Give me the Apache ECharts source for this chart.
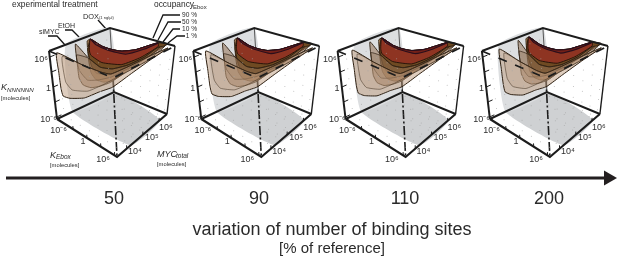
<!DOCTYPE html>
<html><head><meta charset="utf-8">
<style>html,body{margin:0;padding:0;background:#fff}#c{width:617px;height:259px}</style>
<script src="https://cdn.jsdelivr.net/npm/echarts@6/dist/echarts.min.js"></script>
</head><body><div id="c"></div>
<script>
// ---------- data: every point is [log10 KEbox, log10 MYCtotal, log10 KNNNNNN] ----------
const panelLabels = ['50','90','110','200'];
const kEboxTicks = [-6,-3,0,3,6];
const mycTicks = [4,5,6];
const kNTicks = [-6,-3,0,3,6];
const dotK = [-5,-3,-1,1,3,5];
const dotM = [3.8,4.3,4.8,5.3,5.8,6.3];
const dotN = [-5,-3,-1,1,3,5];

const siMYC_1 = [[-6.5,3.76,6.3],[-6.5,3.76,2.4],[-6.4,3.76,-.8],[-6.1,3.76,-2.2],[-4.6,3.76,-1.9],[-1.4,3.76,-.3],[1.95,3.76,2.3],[4.8,3.76,4.3],[6.5,4.24,6.25],[6.5,5.26,6.97],[6.1,6.25,7.2],[5.79,5.43,7.2],[5.72,4.42,7.2],[4.55,3.76,6.55],[2.5,3.76,6.15],[-1.6,3.76,6.05]];
const siMYC_10 = [[-5.4,3.76,6],[-5.2,3.76,1.05],[-3.9,3.76,.07],[-.5,3.76,1.4],[3.1,3.76,4.2],[6.5,4,7],[6.5,5.26,7.1],[6.1,6.25,7.2],[5.79,5.43,7.2],[5.72,4.42,7.2],[4.55,3.76,6.55],[2.5,3.76,6.15],[-1.6,3.76,6.05]];
const etoh_1 = [[-6.5,4.73,6.6],[-6.5,4.73,2.3],[-6.4,4.73,-.3],[-5.6,4.73,-1.4],[-3.9,4.73,-1.2],[-1.8,4.73,0],[.4,4.73,1.6],[6.5,3.99,7],[6.5,5.26,7.2],[5.2,6.32,7.2],[4.7,6.05,7.2],[5.4,5.26,7.2],[5.3,4.45,7.2],[.9,4.73,4.4],[-1.6,4.73,3.8],[-4,4.73,4.7]];
const etoh_10 = [[-6.5,4.73,4.35],[-6.2,4.73,1.35],[-4.55,4.73,.05],[-2.1,4.73,1.1],[.65,4.73,2.75],[4.3,4.73,5.75],[5.8,5.42,7.2],[4.8,6.18,7.2],[4.7,6.05,7.2],[5.4,5.26,7.2],[5.3,4.45,7.2],[.9,4.73,4.4],[-1.6,4.73,3.8],[-4,4.73,4.7]];
const dox_1 = [[-6.5,5.32,6.3],[-6.5,5.32,2],[-6.2,5.32,-.2],[-5.2,5.32,-1.2],[-3.5,5.32,-1],[-1.6,5.32,0],[1.04,5.32,2.6],[4.3,5.32,6],[4.94,5.88,7.2],[5,6.5,7.2],[3.5,6.4,7.2],[2.9,5.9,7.2],[2.46,5.5,7.2],[.5,5.32,6.65],[-1.5,5.32,6.3],[-3.5,5.32,6.3],[-5.8,5.32,6.95]];
const dox_10 = [[-6.5,5.32,4.4],[-6,5.32,1.3],[-5,5.32,.2],[-1.7,5.32,1.2],[2.6,5.32,4.2],[5.46,5.76,7.2],[5,6.5,7.2],[3.5,6.4,7.2],[2.9,5.9,7.2],[2.46,5.5,7.2],[.5,5.32,6.65],[-1.5,5.32,6.3],[-3.5,5.32,6.3],[-5.8,5.32,6.95]];
const dox_50 = [[-6.2,5.32,4.6],[-6,5.32,3.6],[-3.7,5.32,2.9],[.5,5.32,4],[4.4,5.32,6.7],[4.5,6.16,7.2],[3.5,6.4,7.2],[2.9,5.9,7.2],[2.46,5.5,7.2],[.5,5.32,6.65],[-1.5,5.32,6.3],[-3.5,5.32,6.3],[-5.8,5.32,6.95]];
const dox_90 = [[-5.6,5.32,6.8],[-4.8,5.32,6.2],[-2.3,5.32,5.9],[1.3,5.32,6.3],[3.4,5.71,7.2],[3.6,6.38,7.2],[3.5,6.4,7.2],[2.9,5.9,7.2],[2.46,5.5,7.2],[.5,5.32,6.65],[-1.5,5.32,6.3],[-3.5,5.32,6.3],[-5.8,5.32,6.95]];
// how far each treatment's slice sits up the MYC axis in each panel (log10 units)
const siMYC_shift = [0,.25,.36,.5];
const etoh_shift = [0,.15,.3,.5];
const dox_shift = [0,.15,.15,.3];

// ---------- view of the 3D box ----------
const R = {k:[-6.5,6.5], m:[3.4,6.5], n:[-6.4,7.2]};
const C = { // projected corners in panel-local units, [k side][myc side]
  top:{ll:[49,51],lh:[110,28],hl:[113,78],hh:[175,46]},
  bot:{ll:[57,119],lh:[114,92],hl:[117,157],hh:[167,114]}
};
function project(p){
  const s=(p[0]-R.k[0])/(R.k[1]-R.k[0]), t=(p[1]-R.m[0])/(R.m[1]-R.m[0]), h=(p[2]-R.n[0])/(R.n[1]-R.n[0]);
  const bl=(f)=>(o)=>(1-s)*(1-t)*f.ll[o]+(1-s)*t*f.lh[o]+s*(1-t)*f.hl[o]+s*t*f.hh[o];
  const T=bl(C.top),B=bl(C.bot);
  return [h*T(0)+(1-h)*B(0), h*T(1)+(1-h)*B(1)];
}
const shifted=(pts,d)=>pts.map(p=>[p[0],p[1]+d*(1-(p[0]-R.k[0])/(R.k[1]-R.k[0])),p[2]]);

const K=R.k,M=R.m,N=R.n;
const FONT='"Liberation Sans",Arial,sans-serif';
const EDGE='#1c1c1c';
function layersFor(panel){
  const L=[];
  const poly=(pts,fill,stroke,lw)=>L.push({t:'poly',pts,fill,stroke,lw});
  const line=(pts,w,c,dash)=>L.push({t:'line',pts,w,c,dash});
  // grey planes
  poly([[K[0],4.25,N[0]],[K[0],M[1],N[0]],[K[1],6.05,N[0]],[K[1],4.25,N[0]]],'#cfd1d3');
  poly([[K[0],4.25,N[1]],[K[0],M[1],N[1]],[K[0],M[1],N[0]],[K[0],4.25,N[0]]],'#dcdee0');
  // far edges
  line([[K[0],M[1],N[1]],[K[0],M[1],N[0]]],1,'#555');
  line([[K[0],M[0],N[0]],[K[0],M[1],N[0]],[K[1],M[1],N[0]]],2,EDGE);
  // near vertical dashed
  line([[K[1],M[0],N[1]],[K[1],M[0],N[0]]],1.6,EDGE,[9,2.5,2,2.5]);
  // sheets, back to front
  const dd=dox_shift[panel], ed=etoh_shift[panel], sd=siMYC_shift[panel];
  poly(shifted(dox_1,dd),'#a8825a','#2e2012',.9);
  poly(shifted(dox_10,dd),'#6f4a22','#2a1a0c',.9);
  poly(shifted(dox_50,dd),'#8e3422','#2a140a',1);
  poly(shifted(dox_90,dd),'#742018','#2a0f1c',1.1);
  poly(shifted(etoh_1,ed),'rgba(150,115,85,0.55)','#2e2012',.9);
  poly(shifted(etoh_10,ed),'rgba(120,85,55,0.22)','#2e2012',.7);
  poly(shifted(siMYC_1,sd),'rgba(190,155,125,0.5)','#2e2012',1);
  poly(shifted(siMYC_10,sd),'rgba(170,130,100,0.16)','#3a2a1a',.5);
  // box top edges, dashed near ones
  line([[K[0],M[0],N[1]],[K[1],M[0],N[1]],[K[1],M[1],N[1]]],1.8,EDGE,[9,9]);
  line([[K[0],M[0],N[1]],[K[0],M[1],N[1]],[K[1],M[1],N[1]]],2,EDGE);
  line([[K[0],M[0],N[1]],[K[0],M[0],N[0]]],2,EDGE);
  line([[K[1],M[1],N[1]],[K[1],M[1],N[0]]],1.4,EDGE);
  line([[K[0],M[0],N[0]],[K[1],M[0],N[0]],[K[1],M[1],N[0]]],2.2,EDGE);
  // ticks
  kNTicks.forEach(v=>line([[K[0],M[0],v],[K[0],3.65,v]],1,EDGE));
  kEboxTicks.forEach(v=>line([[v,M[0],N[0]],[v,M[0],-5.8]],1,EDGE));
  mycTicks.forEach(v=>line([[K[1],v,N[0]],[K[1],v,-5.8]],1,EDGE));
  // tick labels (panel-local placement)
  const txt=(s,x,y,align)=>L.push({t:'text',s,x,y,align});
  txt('10\u2076',48,60,'right'); txt('1',51,89,'right'); txt('10\u207B\u2076',57,120,'right');
  txt('10\u207B\u2076',67,131,'right'); txt('1',83,142,'center'); txt('10\u2076',110,160,'right');
  txt('10\u2074',128,152,'left'); txt('10\u2075',145,138,'left'); txt('10\u2076',159,128,'left');
  return L;
}
function wallDots(){
  const d=[];
  dotM.forEach(m=>dotN.forEach(n=>d.push(project([K[1],m,n]))));
  dotK.forEach(k=>dotM.forEach(m=>d.push(project([k,m,N[0]]))));
  dotM.forEach(m=>dotN.forEach(n=>d.push(project([K[0],m,n]))));
  return d;
}
function renderLayer(layers){
  return function(params,api){
    const l=layers[api.value(0)];
    const xy=p=>api.coord(project(p));
    if(l.t==='poly') return {type:'polygon',shape:{points:l.pts.map(xy),smooth:.15},
      style:{fill:l.fill,stroke:l.stroke||null,lineWidth:l.lw||0}};
    if(l.t==='line') return {type:'polyline',shape:{points:l.pts.map(xy)},
      style:{fill:null,stroke:l.c,lineWidth:l.w,lineDash:l.dash||null}};
    const c=api.coord([l.x,l.y]);
    return {type:'text',style:{text:l.s,x:c[0],y:c[1],fill:'#2e2e2e',font:'9px '+FONT,align:l.align,verticalAlign:'middle'}};
  };
}
const PANEL_W=180,PANEL_H=175;
const grids=[],xAxes=[],yAxes=[],series=[];
panelLabels.forEach((_,i)=>{
  grids.push({left:144.3*i,top:0,width:PANEL_W,height:PANEL_H});
  xAxes.push({type:'value',gridIndex:i,min:0,max:PANEL_W,show:false});
  yAxes.push({type:'value',gridIndex:i,min:0,max:PANEL_H,inverse:true,show:false});
  const layers=layersFor(i);
  series.push({type:'scatter',xAxisIndex:i,yAxisIndex:i,data:wallDots(),symbolSize:1,silent:true,z:3,
    itemStyle:{color:'#a5a5a5'}});
  series.push({type:'custom',xAxisIndex:i,yAxisIndex:i,silent:true,clip:false,z:2,
    data:layers.map((_,j)=>[j,0]),renderItem:renderLayer(layers),animation:false});
});
const T=(text,x,y,size,extra)=>Object.assign({type:'text',silent:true,style:{text,x,y,fill:'#2a2a2a',font:(extra&&extra.italic?'italic ':'')+size+'px '+FONT,align:(extra&&extra.align)||'left',verticalAlign:'middle'}});
const P=(points,w)=>({type:'polyline',silent:true,shape:{points},style:{fill:null,stroke:'#161616',lineWidth:w||1.3}});
const graphic=[
  P([[98,20],[107,30]]),P([[65,30],[72,30],[82,40]]),P([[48,36],[57,36],[65,45]]),
  P([[180,15],[163,15],[153,38]]),P([[181,22],[168,22],[158,40]]),P([[180,29],[173,29],[163,42]]),P([[185,36],[177,36],[168,43]]),
  T('experimental treatment',12,4.5,8.4),
  T('occupancy',154,5,8.4),T('Ebox',193,7,6),
  T('DOX',83,17,7.4),T('(1 ng/\u00B5l)',99,17.5,4),T('EtOH',58,26,7),T('siMYC',39,32,7),
  T('90 %',197,15,6.6,{align:'right'}),T('50 %',197,22,6.6,{align:'right'}),T('10 %',197,29,6.6,{align:'right'}),T('1 %',197,36,6.6,{align:'right'}),
  T('K',1,87,9,{italic:true}),T('NNNNNN',7,90,6.2,{italic:true}),T('[molecules]',1,98.5,5.8),
  T('K',50,155,9,{italic:true}),T('Ebox',56,157.5,6.5,{italic:true}),T('[molecules]',50,165.5,5.8),
  T('MYC',157,154,9,{italic:true}),T('total',176,156.5,6.5,{italic:true}),T('[molecules]',157,164.5,5.8),
  {type:'line',silent:true,shape:{x1:6,y1:178,x2:606,y2:178},style:{stroke:'#231f20',lineWidth:3}},
  {type:'polygon',silent:true,shape:{points:[[604,170.5],[617,178],[604,185.5]]},style:{fill:'#231f20'}},
  T('50',114,199,18,{align:'center'}),T('90',259,199,18,{align:'center'}),T('110',405,199,18,{align:'center'}),T('200',549,199,18,{align:'center'}),
  T('variation of number of binding sites',332,230,18,{align:'center'}),
  T('[% of reference]',332,249,15,{align:'center'})
];
const chart=echarts.init(document.getElementById('c'),null,{renderer:'canvas'});
chart.setOption({animation:false,grid:grids,xAxis:xAxes,yAxis:yAxes,series,graphic});
</script></body></html>
